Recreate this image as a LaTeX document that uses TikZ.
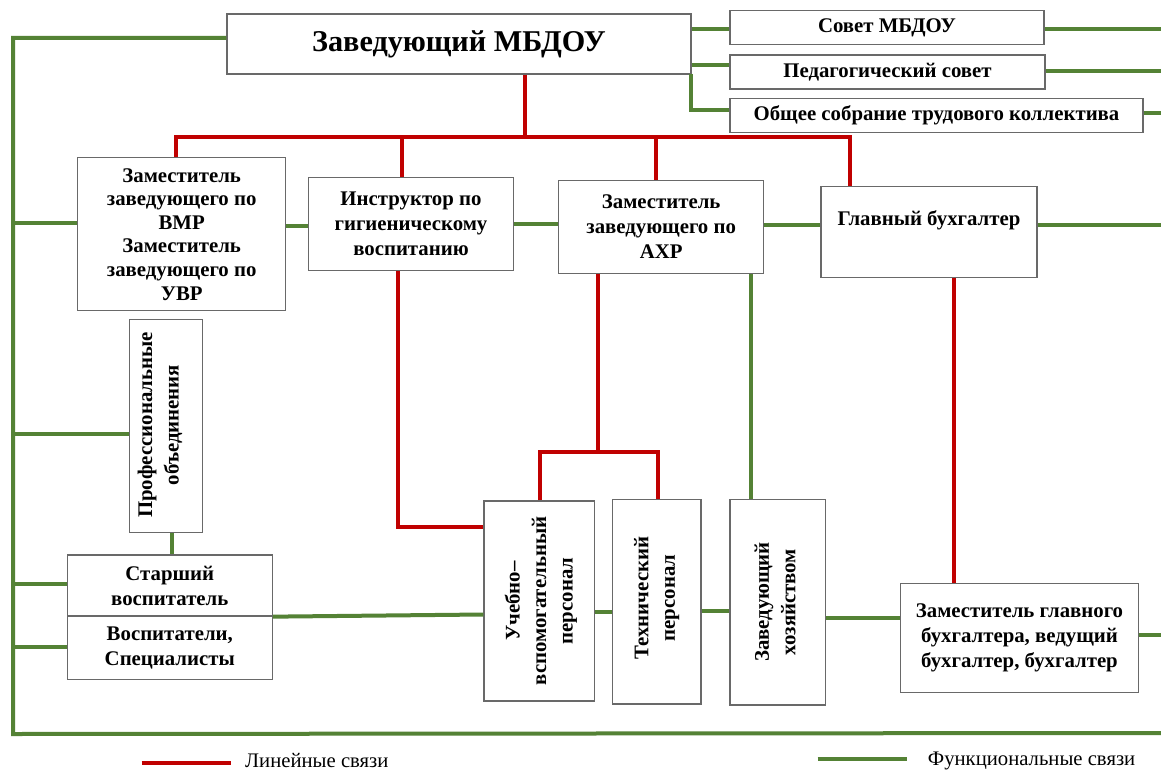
\documentclass[tikz,border=0pt]{standalone}
\usepackage{fontspec}
\setmainfont{Liberation Serif}
\definecolor{linred}{RGB}{192,0,0}
\definecolor{fngreen}{RGB}{84,130,53}
\definecolor{boxgray}{RGB}{105,105,105}
\tikzset{
  box/.style={draw=boxgray, line width=1.3pt, fill=white, inner sep=2pt, align=center,
              font=\bfseries\fontsize{20.8}{25}\selectfont},
  txt/.style={align=center, inner sep=0pt, font=\bfseries\fontsize{20.8}{25}\selectfont},
  vtxt/.style={align=center, inner sep=0pt, rotate=90, font=\bfseries\fontsize{20.8}{26.5}\selectfont},
  lin/.style={draw=linred, line width=4pt},
  fn/.style={draw=fngreen, line width=4pt},
  legtxt/.style={inner sep=0pt, font=\fontsize{20.7}{23}\selectfont}
}
\begin{document}
\begin{tikzpicture}[x=1pt,y=-1pt]
\useasboundingbox (0,0) rectangle (1161,770);
\fill[white] (0,0) rectangle (1161,770);

% boxes
\node[box, font=\bfseries\fontsize{30.2}{34}\selectfont, minimum width=464pt, minimum height=60pt] (head) at (459,44) {Заведующий МБДОУ};
\node[box, minimum width=314pt, minimum height=34pt] (sovet) at (887,27.5) {Совет МБДОУ};
\node[box, minimum width=315pt, minimum height=34pt] (ped) at (887.5,72) {Педагогический совет};
\node[box, minimum width=413pt, minimum height=34pt] (obsh) at (936.5,115.5) {Общее собрание трудового коллектива};

\node[box, font=\bfseries\fontsize{20.8}{23.6}\selectfont, minimum width=208pt, minimum height=153pt] (zam) at (181.7,234.3)
  {Заместитель\\заведующего по\\ВМР\\Заместитель\\заведующего по\\УВР};
\node[box, minimum width=205.4pt, minimum height=93.4pt] (instr) at (411,224) {Инструктор по\\гигиеническому\\воспитанию};
\node[box, minimum width=205pt, minimum height=92.6pt] (ahr) at (661.2,227) {Заместитель\\заведующего по\\АХР};
\node[box, minimum width=216pt, minimum height=91pt] (glav) at (929,232.2) {};
\node[txt] (glavT) at (929,220.7) {Главный бухгалтер};

\node[box, minimum width=72.6pt, minimum height=213pt] (prof) at (166,425.8) {};
\node[vtxt] (profT) at (160,425) {Профессиональные\\объединения};

\node[box, minimum width=205pt, minimum height=61pt] (star) at (169.8,585.5) {Старший\\воспитатель};
\node[box, minimum width=205pt, minimum height=63.7pt] (vosp) at (169.8,647.9) {Воспитатели,\\Специалисты};

\node[box, minimum width=110.3pt, minimum height=200pt] (ucheb) at (539.2,601) {};
\node[vtxt] (uchebT) at (541,601) {Учебно–\\вспомогательный\\персонал};
\node[box, minimum width=88.7pt, minimum height=204.7pt] (tekh) at (656.7,601.7) {};
\node[vtxt] (tekhT) at (656.7,598) {Технический\\персонал};
\node[box, minimum width=95.3pt, minimum height=205.7pt] (zhoz) at (777.7,602.2) {};
\node[vtxt] (zhozT) at (775,602) {Заведующий\\хозяйством};
\node[box, minimum width=237.6pt, minimum height=109.4pt] (zglav) at (1019.5,638) {Заместитель главного\\бухгалтера, ведущий\\бухгалтер, бухгалтер};

% free ends / bends
\coordinate (rbus) at (524.7,137);
\coordinate (gTL) at (13,38);
\coordinate (gBL) at (13,734);
\coordinate (gBR) at (1161,733);
\coordinate (eSov) at (1161,29);
\coordinate (ePed) at (1161,70.7);
\coordinate (eObs) at (1161,113.3);
\coordinate (eGlav) at (1161,225.3);
\coordinate (eZgl) at (1161,635);

% linear (red) links
\draw[lin] (head.south -| rbus) -- (rbus);
\draw[lin] (zam.north -| 176,0) -- (176,137) -- (849.7,137) -- (glav.north -| 849.7,0);
\draw[lin] (402.3,137) -- (instr.north -| 402.3,0);
\draw[lin] (655.7,137) -- (ahr.north -| 655.7,0);
\draw[lin] (instr.south -| 398.3,0) -- (398.3,526.7) -- (ucheb.west |- 0,526.7);
\draw[lin] (ahr.south -| 598.3,0) -- (598.3,451.7);
\draw[lin] (ucheb.north -| 540,0) -- (540,451.7) -- (657.7,451.7) -- (tekh.north -| 657.7,0);
\draw[lin] (glav.south -| 954,0) -- (zglav.north -| 954,0);

% functional (green) links
\draw[fn] (head.west |- gTL) -- (gTL) -- (gBL) -- (gBR);
\draw[fn] (13,223) -- (zam.west |- 0,223);
\draw[fn] (13,434.3) -- (prof.west |- 0,434.3);
\draw[fn] (13,584.3) -- (star.west |- 0,584.3);
\draw[fn] (13,646.7) -- (vosp.west |- 0,646.7);
\draw[fn] (head.east |- 0,29) -- (sovet.west |- 0,29);
\draw[fn] (head.east |- 0,65) -- (ped.west |- 0,65);
\draw[fn] (691,74) -- (691,110) -- (obsh.west |- 0,110);
\draw[fn] (sovet.east |- eSov) -- (eSov);
\draw[fn] (ped.east |- ePed) -- (ePed);
\draw[fn] (obsh.east |- eObs) -- (eObs);
\draw[fn] (zam.east |- 0,225.7) -- (instr.west |- 0,225.7);
\draw[fn] (instr.east |- 0,224) -- (ahr.west |- 0,224);
\draw[fn] (ahr.east |- 0,225) -- (glav.west |- 0,225);
\draw[fn] (glav.east |- eGlav) -- (eGlav);
\draw[fn] (ahr.south -| 750.7,0) -- (zhoz.north -| 750.7,0);
\draw[fn] (prof.south -| 172.3,0) -- (star.north -| 172.3,0);
\draw[fn] (star.south east) -- (ucheb.west |- 0,614.5);
\draw[fn] (ucheb.east |- 0,612.3) -- (tekh.west |- 0,612.3);
\draw[fn] (tekh.east |- 0,611) -- (zhoz.west |- 0,611);
\draw[fn] (zhoz.east |- 0,618.3) -- (zglav.west |- 0,618.3);
\draw[fn] (zglav.east |- eZgl) -- (eZgl);

% legend
\coordinate (lr1) at (141.7,763.3);
\coordinate (lr2) at (230.7,763.3);
\draw[lin] (lr1) -- (lr2);
\node[legtxt, anchor=base west] (legR) at (245,767) {Линейные связи};
\coordinate (lg1) at (817.7,759);
\coordinate (lg2) at (907,759);
\draw[fn] (lg1) -- (lg2);
\node[legtxt, anchor=base west] (legG) at (927.7,765) {Функциональные связи};
\end{tikzpicture}
\end{document}
